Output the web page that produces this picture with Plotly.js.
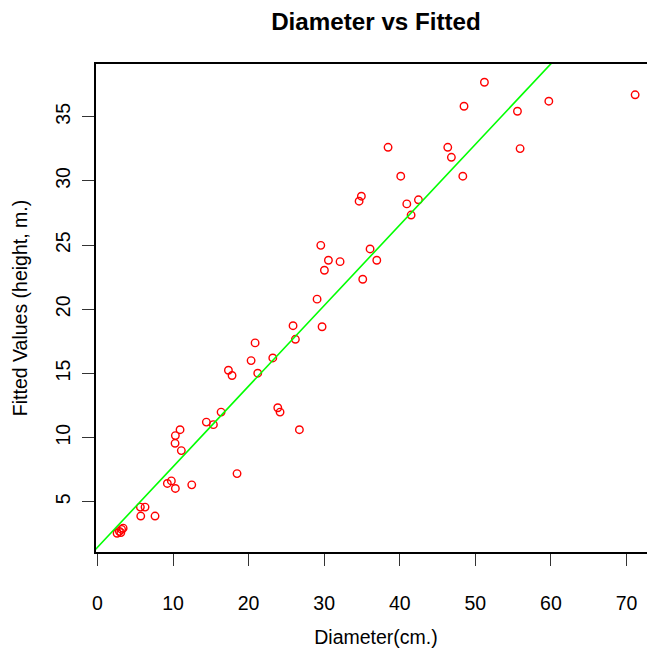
<!DOCTYPE html>
<html>
<head>
<meta charset="utf-8">
<script src="https://cdn.plot.ly/plotly-3.0.1.min.js"></script>
<style>
html,body{margin:0;padding:0;overflow:hidden;background:#fff;}
#chart{width:670px;height:648px;}
</style>
</head>
<body>
<div id="chart"></div>
<script>
// Diameter (cm.) of each tree
var diameter = [48.5, 38.45, 46.35, 46.83, 40.13, 48.34, 34.92, 34.62, 40.93, 42.47,
  41.5, 51.2, 59.72, 55.57, 71.14, 55.92, 20.86, 20.33, 23.2, 17.33,
  17.81, 21.21, 29.55, 30.56, 32.1, 36.07, 36.96, 30.03, 35.1, 29.06,
  25.88, 29.72, 26.19, 23.86, 24.16, 16.36, 14.41, 15.34, 10.93, 10.31,
  10.27, 11.1, 18.47, 9.25, 9.78, 10.31, 12.48, 5.68, 6.3, 5.73,
  7.62, 26.72, 2.6, 2.9, 3.2, 3.4, 3.1];
// Fitted values (height, m.)
var fitted = [35.82, 32.62, 32.62, 31.84, 30.37, 30.37, 28.81, 28.42, 28.21, 28.53,
  27.34, 37.69, 36.21, 35.43, 36.71, 32.52, 17.38, 16.0, 16.21, 15.25,
  14.84, 15.02, 24.98, 23.82, 23.71, 24.7, 23.82, 23.04, 22.34, 20.79,
  18.72, 18.64, 17.66, 12.33, 11.99, 11.99, 11.21, 11.01, 10.62, 10.16,
  9.56, 8.99, 7.20, 6.43, 6.63, 6.04, 6.32, 4.59, 4.59, 3.89,
  3.89, 10.62, 2.55, 2.7, 2.85, 2.95, 2.6];
// Reference line (abline) parameters
var lineIntercept = 1.45;
var lineSlope = 0.628;
var xTicks = [0, 10, 20, 30, 40, 50, 60, 70];
var yTicks = [5, 10, 15, 20, 25, 30, 35];

var xRange = [-0.19, 73.9];
var yRange = [1.09, 39.11];

var lineX = [xRange[0] - 5, xRange[1] + 5];
var lineY = lineX.map(function (v) { return lineIntercept + lineSlope * v; });

var font = "Liberation Sans, Arial, Helvetica, sans-serif";

var traces = [
  {
    x: diameter, y: fitted, type: "scatter", mode: "markers",
    marker: {symbol: "circle-open", size: 7.5, color: "#ff0000", line: {color: "#ff0000", width: 1.4}},
    hoverinfo: "x+y", showlegend: false
  },
  {
    x: lineX, y: lineY, type: "scatter", mode: "lines",
    line: {color: "#00ff00", width: 1.6}, hoverinfo: "skip", showlegend: false
  }
];

var layout = {
  width: 670, height: 648,
  margin: {l: 96, r: 14, t: 64, b: 96, pad: 0},
  paper_bgcolor: "#ffffff", plot_bgcolor: "#ffffff",
  font: {family: font, color: "#000000", size: 19.5},
  title: {text: "<b>Diameter vs Fitted</b>", font: {family: font, size: 24.2, color: "#000"},
          x: 0.5, xref: "paper", xanchor: "center", y: 0.967, yref: "container", yanchor: "middle"},
  xaxis: {
    range: xRange, tickmode: "array", tickvals: xTicks, ticktext: xTicks.map(String),
    ticks: "outside", ticklen: 12, tickwidth: 1.3, tickcolor: "#333",
    showline: true, linecolor: "#000", linewidth: 1.5, mirror: true,
    showgrid: false, zeroline: false, ticklabelstandoff: 21,
    tickfont: {family: font, size: 19.5, color: "#000"},
    title: {text: "Diameter(cm.)", font: {family: font, size: 19.5, color: "#000"}, standoff: 17}
  },
  yaxis: {
    range: yRange, tickmode: "array", tickvals: yTicks, ticktext: yTicks.map(String),
    ticks: "outside", ticklen: 12, tickwidth: 1.3, tickcolor: "#333",
    showline: true, linecolor: "#000", linewidth: 1.5, mirror: true,
    showgrid: false, zeroline: false, tickangle: -90, ticklabelstandoff: 4,
    tickfont: {family: font, size: 19.5, color: "#000"},
    title: {text: "Fitted Values (height, m.)", font: {family: font, size: 19.5, color: "#000"}, standoff: 20}
  }
};

Plotly.newPlot("chart", traces, layout, {displayModeBar: false, responsive: false});
</script>
</body>
</html>
